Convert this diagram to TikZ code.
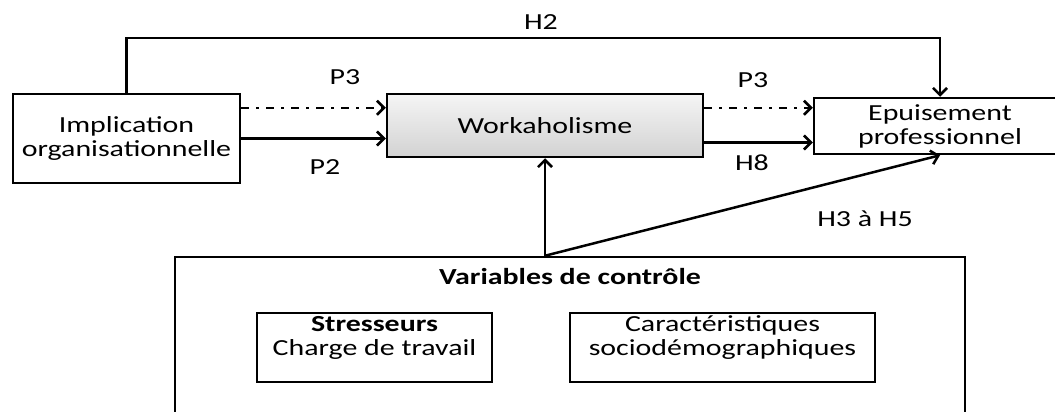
\documentclass[tikz,border=0pt]{standalone}
\usepackage{fontspec}
\setmainfont{Carlito}[FakeStretch=1.3]
\usetikzlibrary{arrows.meta}
\begin{document}
\begin{tikzpicture}
    [
    x=1pt, y=-1pt,
    box/.style={draw,line width=2.5pt,inner sep=0pt,align=center,font=\fontsize{23}{24}\selectfont},
    lbl/.style={inner sep=0pt,font=\fontsize{23}{24}\selectfont},
    arr/.style={line width=2.5pt,-{Straight Barb[length=7pt,width=14pt]}},
    dashdot/.style={dash pattern=on 8pt off 7pt on 3pt off 7pt}
    ]
    \clip (0,0) rectangle (1055,412);
    \node (impl) at (126.5,138.5) [box, minimum width=227pt, minimum height=89pt] {Implication\\organisationnelle};
    \node (work) at (545,125.5) [box, minimum width=316pt, minimum height=63pt, top color=gray!8, bottom color=gray!35] {Workaholisme};
    \node (epui) at (940,126) [box, minimum width=252pt, minimum height=56pt] {Epuisement\\professionnel};
    \node (ctrl) at (570,348.5) [box, minimum width=790pt, minimum height=183pt] {};
    \node (ctrltitle) at (570,277) [lbl] {\bfseries Variables de contrôle};
    \node (stress) at (374.5,347.5) [box, minimum width=235pt, minimum height=69pt] {\textbf{Stresseurs}\\Charge de travail\\\mbox{}};
    \node (socio) at (722.5,347.5) [box, minimum width=305pt, minimum height=69pt] {Caractéristiques\\sociodémographiques\\\mbox{}};
    \node (lh2) at (541,22) [lbl] {H2};
    \node (lp3a) at (345,77) [lbl] {P3};
    \node (lp2) at (325,167) [lbl] {P2};
    \node (lp3b) at (753,80) [lbl] {P3};
    \node (lh8) at (752,163) [lbl] {H8};
    \node (lh35) at (865,219) [lbl] {H3 à H5};
    \coordinate (h2) at (541,38);
    \coordinate (d0) at ([yshift=-15pt]impl.north east);
    \coordinate (d1) at ([yshift=-15pt]work.north east);
    \coordinate (s1) at ([yshift=-17pt]work.east);
    \coordinate (src) at ([xshift=-25pt]ctrl.north);
    \draw [arr] (impl.north) |- (h2) -| (epui.north);
    \draw [arr, dashdot] (d0) -- (d0 -| work.west);
    \draw [arr] (impl.east) -- (impl.east -| work.west);
    \draw [arr, dashdot] (d1) -- (d1 -| epui.west);
    \draw [arr] (s1) -- (s1 -| epui.west);
    \draw [arr] (src) -- (src |- work.south);
    \draw [arr] (src) -- (epui.south);
  \end{tikzpicture}
\end{document}
